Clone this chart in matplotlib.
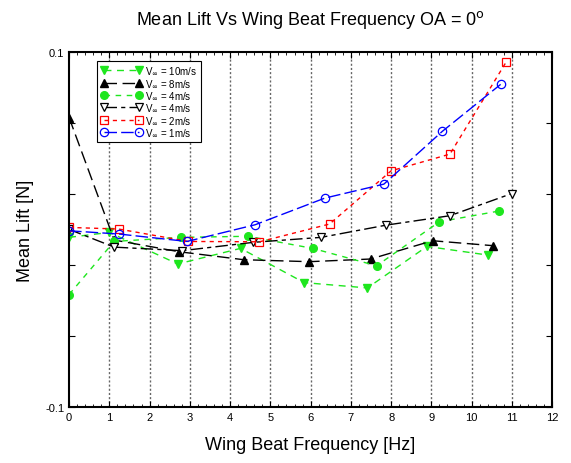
import matplotlib.pyplot as plt
from matplotlib.ticker import MultipleLocator
import numpy as np

plt.rcParams['font.family'] = ['Liberation Sans', 'DejaVu Sans']

# V = 10 m/s
f_10 = [0.0, 1.0, 2.70, 4.26, 5.84, 7.41, 8.89, 10.41]
lift_10 = [-0.0045, -0.0017, -0.0195, -0.0107, -0.030, -0.033, -0.0096, -0.0145]
# V = 8 m/s
f_8 = [0.0, 1.12, 2.73, 4.34, 5.97, 7.49, 9.03, 10.54]
lift_8 = [0.063, -0.006, -0.0126, -0.0171, -0.0182, -0.0167, -0.0064, -0.0092]
# V = 4 m/s (circles)
f_4a = [0.0, 1.12, 2.77, 4.44, 6.05, 7.64, 9.20, 10.67]
lift_4a = [-0.0367, -0.0068, -0.0045, -0.0039, -0.0107, -0.0205, 0.0043, 0.0103]
# V = 4 m/s (open triangles)
f_4b = [0.0, 1.12, 2.81, 4.58, 6.26, 7.88, 9.46, 11.0]
lift_4b = [0.0, -0.010, -0.012, -0.0073, -0.0045, 0.0024, 0.0077, 0.0202]
# V = 2 m/s
f_2 = [0.0, 1.23, 2.96, 4.73, 6.47, 8.0, 9.46, 10.86]
lift_2 = [0.0011, 0.0002, -0.0068, -0.0070, 0.003, 0.033, 0.0424, 0.0944]
# V = 1 m/s
f_1 = [0.0, 1.23, 2.93, 4.62, 6.35, 7.82, 9.27, 10.72]
lift_1 = [-0.0008, -0.0026, -0.0068, 0.0026, 0.0176, 0.0255, 0.0552, 0.0817]

green = '#1ee61e'

fig = plt.figure(figsize=(5.71, 4.64), dpi=100)
ax = fig.add_axes([0.121, 0.121, 0.846, 0.765])

ax.plot(f_10, lift_10, color=green, ls=(0, (5, 4)), lw=1, marker='v', ms=6,
        label=r'V$_{\infty}$ = 10m/s')
ax.plot(f_8, lift_8, color='black', ls=(0, (9, 4)), lw=1, marker='^', ms=6,
        label=r'V$_{\infty}$ = 8m/s')
ax.plot(f_4a, lift_4a, color=green, ls=(0, (4, 4)), lw=1, marker='o', ms=5.5,
        label=r'V$_{\infty}$ = 4m/s')
ax.plot(f_4b, lift_4b, color='black', ls=(0, (9, 3, 3, 3)), lw=1, marker='v', ms=6,
        mfc='white', mew=0.9, label=r'V$_{\infty}$ = 4m/s')
ax.plot(f_2, lift_2, color='red', ls=(0, (3, 3)), lw=1, marker='s', ms=6,
        mfc='none', mew=0.9, label=r'V$_{\infty}$ = 2m/s')
ax.plot(f_1, lift_1, color='blue', ls=(0, (9, 3)), lw=1, marker='o', ms=6,
        mfc='none', mew=0.9, label=r'V$_{\infty}$ = 1m/s')

ax.set_xlim(0, 12)
ax.set_ylim(-0.1, 0.1)
ax.set_xticks(np.arange(0, 13, 1))
ax.xaxis.set_minor_locator(MultipleLocator(0.2))
ax.set_yticks([-0.1, -0.06, -0.02, 0.02, 0.06, 0.1])
ax.set_yticklabels(['-0.1', '', '', '', '', '0.1'])
ax.tick_params(which='both', direction='in', top=True, right=True, labelsize=8)
ax.tick_params(which='major', length=4)
ax.tick_params(which='minor', length=2)
for sp in ax.spines.values():
    sp.set_linewidth(1.5)

for xv in range(1, 12):
    ax.axvline(xv, color='#666666', ls=(0, (1.5, 1.5)), lw=1, zorder=0)

ax.set_title(r'Mean Lift Vs Wing Beat Frequency OA = 0$^{\mathrm{o}}$', fontsize=13, pad=20)
ax.set_xlabel('Wing Beat Frequency [Hz]', fontsize=13, labelpad=10)
ax.set_ylabel('Mean Lift [N]', fontsize=13, labelpad=8)

leg = ax.legend(loc='upper left', bbox_to_anchor=(0.058, 0.975), borderaxespad=0,
                fontsize=7, numpoints=2, handlelength=4.2, labelspacing=0.05,
                fancybox=False, edgecolor='black', framealpha=1,
                borderpad=0.4, handletextpad=0.3)
leg.get_frame().set_linewidth(0.8)

plt.savefig('out.png', dpi=100)
